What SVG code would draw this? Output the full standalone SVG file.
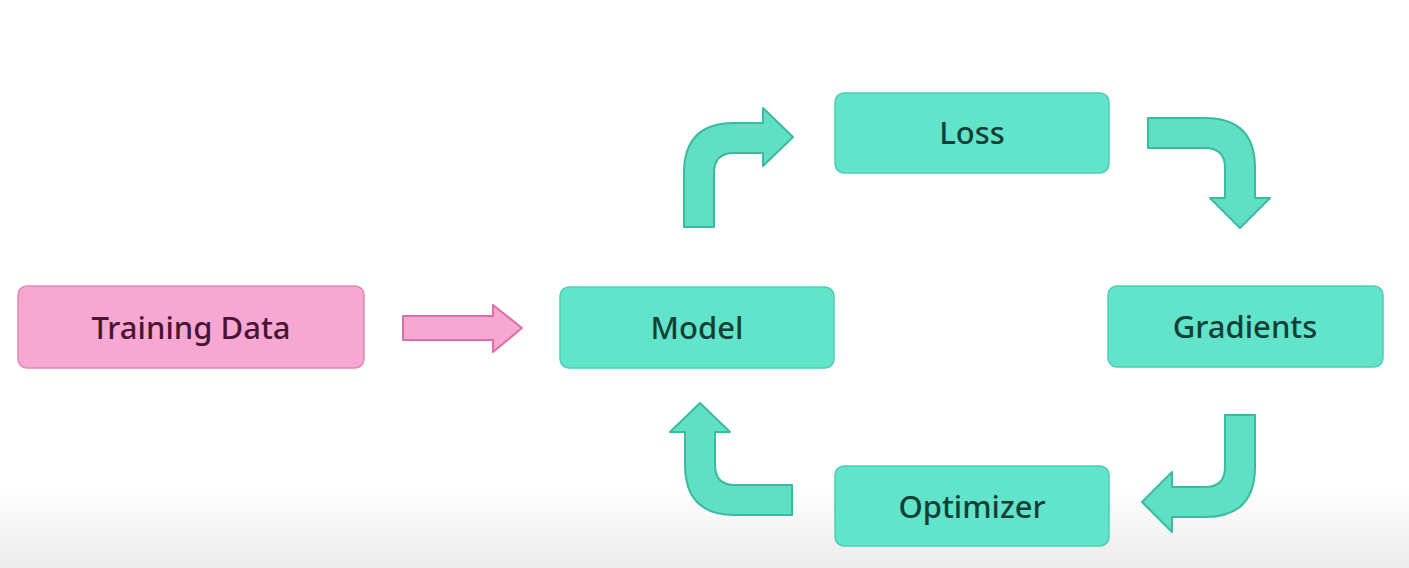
<svg xmlns="http://www.w3.org/2000/svg" width="1409" height="568" viewBox="0 0 1409 568">
  <defs>
    <linearGradient id="bg" x1="0" y1="0" x2="0" y2="1">
      <stop offset="0" stop-color="#ffffff"/>
      <stop offset="0.86" stop-color="#ffffff"/>
      <stop offset="1" stop-color="#ececec"/>
    </linearGradient>
    <style>
      .teal { fill: #62e4ca; stroke: #4ccfb3; stroke-width: 1.5; }
      .pink { fill: #f7a8d2; stroke: #e486b8; stroke-width: 1.5; }
      .arr { fill: #60dfc5; stroke: #39bb9c; stroke-width: 2; stroke-linejoin: round; }
      .parr { fill: #f7a8d2; stroke: #dc6fa6; stroke-width: 2; stroke-linejoin: round; }
      .lbl { font-family: "Noto Sans", "Open Sans", sans-serif; font-size: 31px; font-weight: 500; text-anchor: middle; dominant-baseline: central; }
      .tl { fill: #123f37; }
      .pl { fill: #4a1535; }
    </style>
  </defs>
  <rect x="0" y="0" width="1409" height="568" fill="url(#bg)"/>

  <g id="connectors">
    <path class="parr" d="M403,316 L493,316 L493,305 L522,328 L493,352 L493,340 L403,340 Z"/>
    <path class="arr" d="M684,227 L684,173 Q684,123 734,123 L763,123 L763,108 L793,137 L763,166 L763,153 L734,153 Q714,153 714,173 L714,227 Z"/>
    <path class="arr" d="M1148,118 L1205,118 Q1255,118 1255,168 L1255,198 L1270,198 L1240,228 L1210,198 L1225,198 L1225,168 Q1225,148 1205,148 L1148,148 Z"/>
    <path class="arr" d="M1225,415 L1255,415 L1255,467 Q1255,517 1205,517 L1172,517 L1172,532 L1142,502 L1172,472 L1172,487 L1205,487 Q1225,487 1225,467 Z"/>
    <path class="arr" d="M792,485 L735,485 Q715,485 715,465 L715,432 L730,432 L700,403 L670,432 L685,432 L685,465 Q685,515 735,515 L792,515 Z"/>
  </g>

  <g id="training-data">
    <rect class="pink" x="18" y="286" width="346" height="82" rx="9"/>
    <text class="lbl pl" x="191" y="327">Training Data</text>
  </g>
  <g id="model">
    <rect class="teal" x="560" y="287" width="274" height="81" rx="9"/>
    <text class="lbl tl" x="697" y="327">Model</text>
  </g>
  <g id="loss">
    <rect class="teal" x="835" y="93" width="274" height="80" rx="9"/>
    <text class="lbl tl" x="972" y="132">Loss</text>
  </g>
  <g id="gradients">
    <rect class="teal" x="1108" y="286" width="275" height="81" rx="9"/>
    <text class="lbl tl" x="1245" y="326">Gradients</text>
  </g>
  <g id="optimizer">
    <rect class="teal" x="835" y="466" width="274" height="80" rx="9"/>
    <text class="lbl tl" x="972" y="506">Optimizer</text>
  </g>
</svg>
